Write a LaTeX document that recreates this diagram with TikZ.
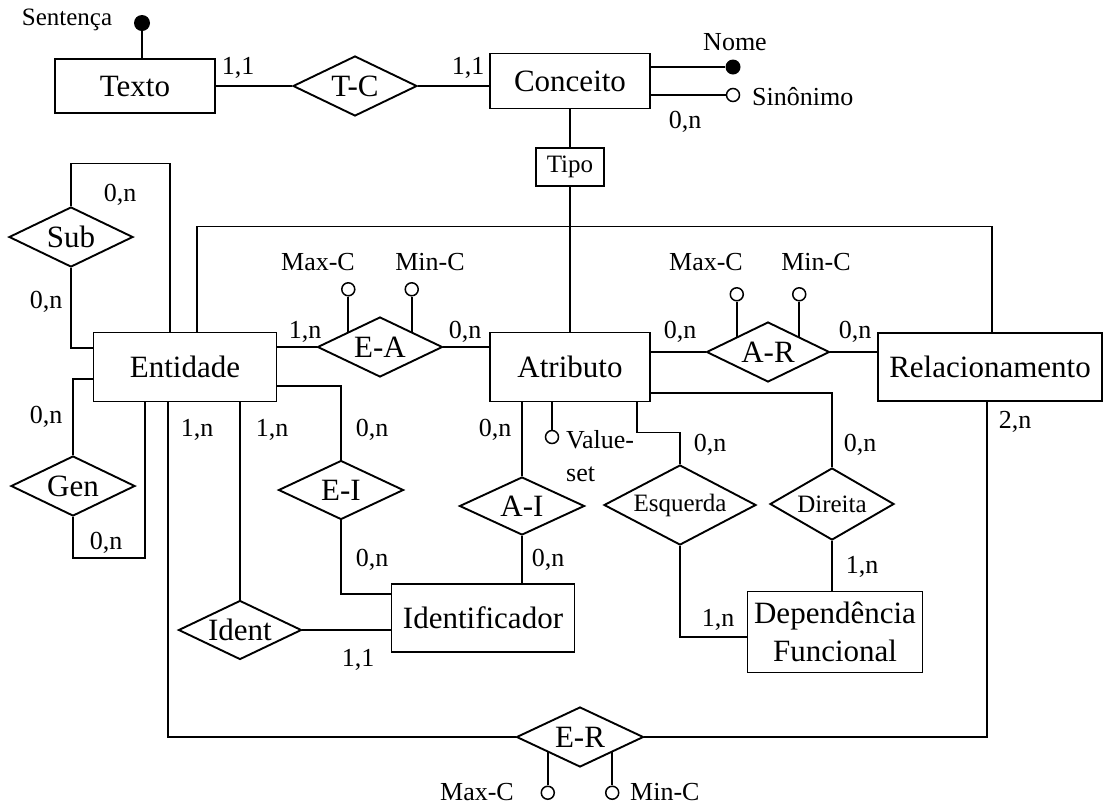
\documentclass[tikz,border=0pt]{standalone}
\usepackage{fontspec}
\setmainfont{Liberation Serif}
\usetikzlibrary{shapes,arrows,positioning}

\begin{document}
\begin{tikzpicture}[x=1pt,y=-1pt,auto]
    \tikzstyle{entity} = [draw, shape=rectangle, inner sep=0pt, line width=1.9pt, font=\fontsize{31}{38}\selectfont]
    \tikzstyle{relation} = [draw, shape=diamond, aspect=2, inner sep=0pt, line width=1.9pt, font=\fontsize{31}{36}\selectfont]
    \tikzstyle{card} = [inner sep=0pt, font=\fontsize{26}{30}\selectfont]
    \tikzstyle{optattr} = [draw, shape=circle, minimum size=13pt, inner sep=0pt, line width=1.5pt]
    \tikzstyle{keyattr} = [fill, shape=circle, minimum size=15pt, inner sep=0pt]
    \useasboundingbox (0,0) rectangle (1107,807);
    %Creating Entities and Relationships
    \node [entity, minimum width=160pt, minimum height=54pt] at (135,86) (texto) {Texto};
    \node [relation, minimum width=124pt, minimum height=60pt] at (355,86) (tc) {T-C};
    \node [entity, minimum width=160pt, minimum height=55pt] at (570,81) (conceito) {Conceito};
    \node [entity, minimum width=68pt, minimum height=38pt, line width=1.5pt, font=\fontsize{25}{30}\selectfont] at (570,167) (tipo) {Tipo};
    \node [entity, minimum width=183pt, minimum height=69pt] at (185,367) (entidade) {Entidade};
    \node [entity, minimum width=160pt, minimum height=69pt] at (570,367) (atributo) {Atributo};
    \node [entity, minimum width=224pt, minimum height=68pt] at (990,367) (relac) {Relacionamento};
    \node [entity, minimum width=183pt, minimum height=68pt] at (483,618) (identif) {Identificador};
    \node [entity, minimum width=175pt, minimum height=81pt, align=center] at (835,632) (depfun) {Dependência\\Funcional};
    \node [relation, minimum width=125pt, minimum height=60pt] at (380,347) (ea) {E-A};
    \node [relation, minimum width=123pt, minimum height=60pt] at (768,352) (ar) {A-R};
    \node [relation, minimum width=124pt, minimum height=60pt] at (71,237) (sub) {Sub};
    \node [relation, minimum width=124pt, minimum height=60pt] at (73,486) (gen) {Gen};
    \node [relation, minimum width=125pt, minimum height=59pt] at (341,490) (ei) {E-I};
    \node [relation, minimum width=125pt, minimum height=58pt] at (522,506) (ai) {A-I};
    \node [relation, minimum width=152pt, minimum height=80pt, font=\fontsize{25}{30}\selectfont] at (680,505) (esq) {Esquerda};
    \node [relation, minimum width=124pt, minimum height=72pt, font=\fontsize{25}{30}\selectfont] at (832,504) (dir) {Direita};
    \node [relation, minimum width=123pt, minimum height=59pt] at (240,630) (ident) {Ident};
    \node [relation, minimum width=127pt, minimum height=60pt] at (580,737) (er) {E-R};
    %Attributes
    \node [keyattr, minimum size=16pt] at (142,23) (sentdot) {};
    \node [card, font=\fontsize{25}{30}\selectfont] at (67,20) (sentlbl) {Sentença};
    \node [keyattr] at (733,67) (nome) {};
    \node [card] at (735,42) (nomelbl) {Nome};
    \node [optattr] at (733,95) (sinon) {};
    \node [card, anchor=west] at (752,97) (sinonlbl) {Sinônimo};
    \node [optattr, above=35pt of ea.north west] (eamax) {};
    \node [optattr, above=35pt of ea.north east] (eamin) {};
    \node [optattr, above=35pt of ar.north west] (armax) {};
    \node [optattr, above=35pt of ar.north east] (armin) {};
    \node [optattr, below=33pt of er.south west] (ermax) {};
    \node [optattr, below=33pt of er.south east] (ermin) {};
    \node [optattr] at (552,437) (valset) {};
    \node [card] at (318,262) (eamaxlbl) {Max-C};
    \node [card] at (430,262) (eaminlbl) {Min-C};
    \node [card] at (706,262) (armaxlbl) {Max-C};
    \node [card] at (816,262) (arminlbl) {Min-C};
    \node [card] at (477,792) (ermaxlbl) {Max-C};
    \node [card, anchor=west] at (630,792) (erminlbl) {Min-C};
    \node [card, anchor=north west, align=left, font=\fontsize{26}{33}\selectfont] at (566,430) (vallbl) {Value-\\set};
    %Cardinalities
    \node [card] at (238,68) (c1) {1,1};
    \node [card] at (468,68) (c2) {1,1};
    \node [card] at (685,122) (c3) {0,n};
    \node [card] at (120,195) (c4) {0,n};
    \node [card] at (46,302) (c5) {0,n};
    \node [card] at (46,417) (c6) {0,n};
    \node [card] at (106,543) (c7) {0,n};
    \node [card] at (305,332) (c8) {1,n};
    \node [card] at (465,332) (c9) {0,n};
    \node [card] at (680,332) (c10) {0,n};
    \node [card] at (855,332) (c11) {0,n};
    \node [card] at (197,430) (c12) {1,n};
    \node [card] at (272,430) (c13) {1,n};
    \node [card] at (372,430) (c14) {0,n};
    \node [card] at (495,430) (c15) {0,n};
    \node [card] at (372,560) (c16) {0,n};
    \node [card] at (548,560) (c17) {0,n};
    \node [card] at (358,660) (c18) {1,1};
    \node [card] at (710,445) (c19) {0,n};
    \node [card] at (718,620) (c20) {1,n};
    \node [card] at (860,445) (c21) {0,n};
    \node [card] at (862,567) (c22) {1,n};
    \node [card] at (1015,422) (c23) {2,n};
    %Connecting Nodes
    \begin{scope}[line width=1.8pt]
        \draw (sentdot) -- (sentdot |- texto.north);
        \draw (texto.east) -- (tc.west);
        \draw (tc.east) -- (tc.east -| conceito.west);
        \draw (conceito.east |- nome) -- (nome);
        \draw (conceito.east |- sinon) -- (sinon.west);
        \draw (conceito.south) -- (tipo.north);
        \draw (tipo.south) -- (atributo.north);
        \draw (entidade.east |- ea) -- (ea.west);
        \draw (ea.east) -- (ea.east -| atributo.west);
        \draw (atributo.east |- ar) -- (ar.west);
        \draw (ar.east) -- (ar.east -| relac.west);
        \draw (ea.north west) -- (eamax);
        \draw (ea.north east) -- (eamin);
        \draw (ar.north west) -- (armax);
        \draw (ar.north east) -- (armin);
        \draw (er.south west) -- (ermax);
        \draw (er.south east) -- (ermin);
        \draw ([xshift=12pt]entidade.north) -- ++(0,-105) -| ([xshift=2pt]relac.north);
        \draw ([xshift=-15pt]entidade.north) -- ++(0,-168) -| (sub.north);
        \draw (sub.south) |- ([yshift=19pt]entidade.west);
        \draw ([yshift=-12pt]entidade.west) -| (gen.north);
        \draw (gen.south) -- ++(0,41) -| ([xshift=-40pt]entidade.south);
        \draw ([xshift=-17pt]entidade.south) |- (er.west);
        \draw (er.east) -| ([xshift=-3pt]relac.south);
        \draw ([xshift=55pt]entidade.south) -- (ident.north);
        \draw (ident.east) -- (ident.east -| identif.west);
        \draw ([yshift=-19pt]entidade.east) -| (ei.north);
        \draw (ei.south) |- ([yshift=24pt]identif.west);
        \draw (ai.north |- atributo.south) -- (ai.north);
        \draw (ai.south) -- (ai.south |- identif.north);
        \draw (valset.north |- atributo.south) -- (valset.north);
        \draw ([xshift=67pt]atributo.south) -- ++(0,30) -| (esq.north);
        \draw (esq.south) |- ([yshift=-5pt]depfun.west);
        \draw ([yshift=-26pt]atributo.east) -| (dir.north);
        \draw (dir.south) -- (dir.south |- depfun.north);
    \end{scope}
\end{tikzpicture}
\end{document}
